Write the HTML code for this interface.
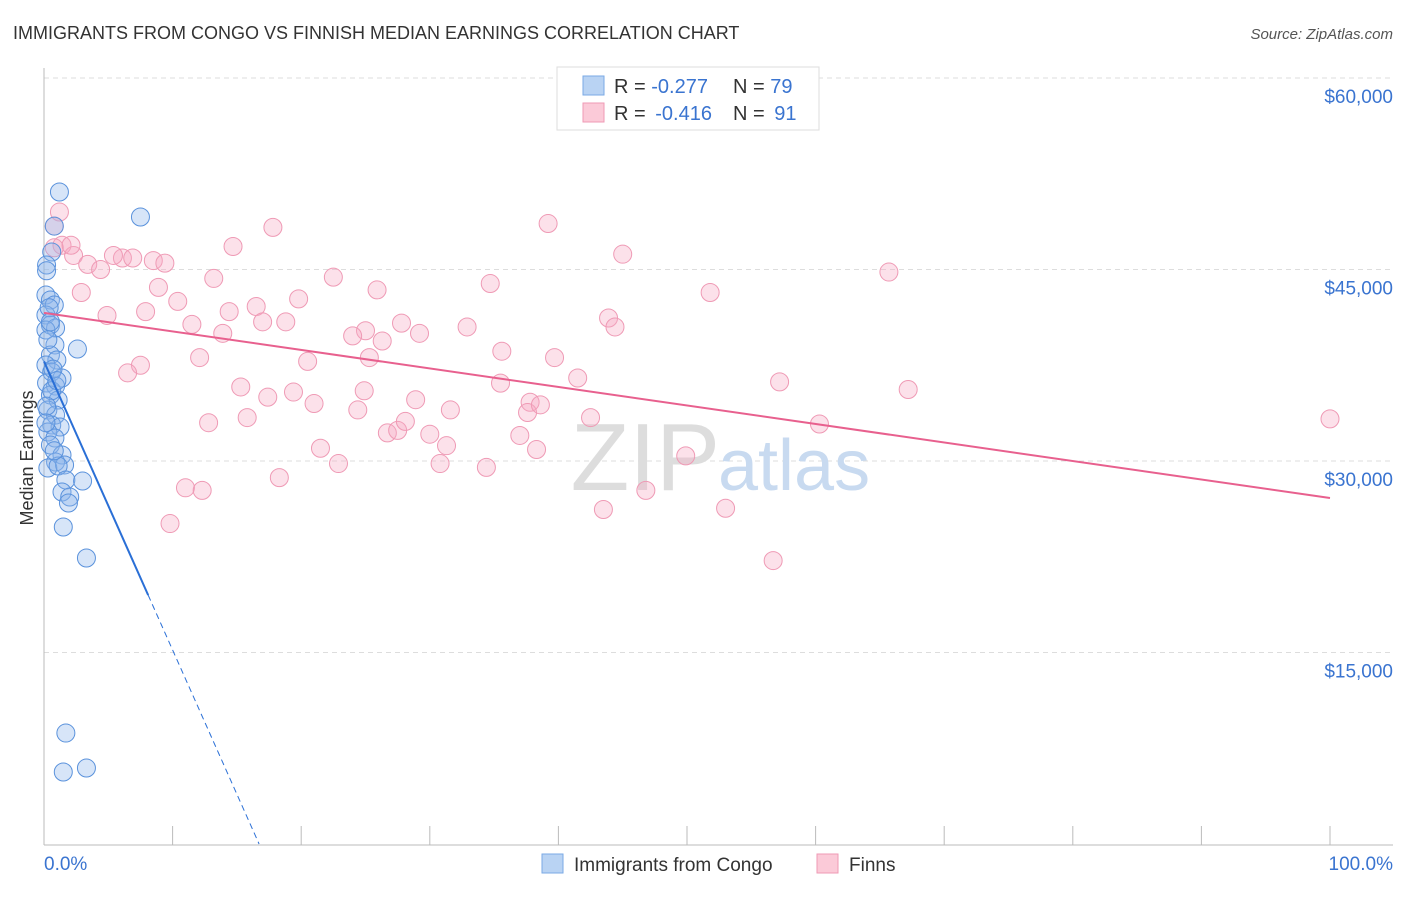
<!DOCTYPE html>
<html><head><meta charset="utf-8"><style>
body{margin:0;background:#fff;font-family:"Liberation Sans",sans-serif;}
svg text{font-family:"Liberation Sans",sans-serif;}
</style></head><body>
<svg id="chart" width="1406" height="892">
<text x="13" y="39" font-size="18" fill="#333">IMMIGRANTS FROM CONGO VS FINNISH MEDIAN EARNINGS CORRELATION CHART</text>
<text x="1393" y="39" font-size="15" fill="#555" font-style="italic" text-anchor="end">Source: ZipAtlas.com</text>
<text x="33" y="458" font-size="18" fill="#333" text-anchor="middle" transform="rotate(-90 33 458)">Median Earnings</text>
<g id="grid"></g>
<text x="720" y="490" font-size="96" fill="#ddd" text-anchor="end" font-family="Liberation Serif">ZIP</text>
<text x="718" y="490" font-size="72" fill="#c8daf0">atlas</text>
<g id="marks"></g>
<g>
<rect x="557" y="67" width="262" height="63" fill="#fff" stroke="#ddd"/>
<rect x="583" y="76" width="21" height="19" fill="#b9d3f3" stroke="#7aa9e6"/>
<rect x="583" y="103" width="21" height="19" fill="#fbcad8" stroke="#ef9ab5"/>
<text x="614" y="93" font-size="20" fill="#333">R = <tspan fill="#3a74d0">-0.277</tspan></text>
<text x="733" y="93" font-size="20" fill="#333">N = <tspan fill="#3a74d0">79</tspan></text>
<text x="614" y="120" font-size="20" fill="#333">R = <tspan fill="#3a74d0" dx="4">-0.416</tspan></text>
<text x="733" y="120" font-size="20" fill="#333">N = <tspan fill="#3a74d0" dx="4">91</tspan></text>
</g>
<g>
<rect x="542" y="854" width="21" height="19" fill="#b9d3f3" stroke="#7aa9e6"/>
<text x="574" y="871" font-size="19" fill="#333">Immigrants from Congo</text>
<rect x="817" y="854" width="21" height="19" fill="#fbcad8" stroke="#ef9ab5"/>
<text x="849" y="871" font-size="19" fill="#333">Finns</text>
</g>
</svg>
<script>
const yTicks=[15000,30000,45000,60000];
const yTickLabels=["$15,000","$30,000","$45,000","$60,000"];
const xTicks=[0,10,20,30,40,50,60,70,80,90,100];
const congoX=[1.2,7.5,0.8,0.6,0.2,0.15,0.5,0.8,0.15,0.5,0.9,0.15,2.6,0.85,0.5,1.0,0.15,0.6,1.4,0.2,0.9,0.5,1.1,0.3,0.9,0.6,1.25,0.3,0.85,0.5,1.4,0.9,0.3,1.6,1.1,1.7,3.0,1.4,2.0,1.9,1.5,3.3,1.7,1.5,3.3,0.2,0.3,0.6,0.15,0.8,0.4,0.7,0.2,0.5,1.0];
const congoY=[51070,49110,48400,46370,45350,43000,42610,42220,41440,40650,40420,40260,38770,39090,38300,37910,37520,36970,36500,36110,35870,35170,34780,33990,33600,32820,32660,32270,31800,31250,30470,29920,29450,29690,29610,28510,28430,27570,27180,26710,24830,22400,8690,5640,5950,44900,39500,35500,33000,30800,42000,37200,34300,40900,36300];
const finnX=[1.2,0.8,1.4,2.3,0.8,3.4,4.4,6.1,6.9,8.5,9.4,5.4,2.9,4.9,7.9,8.9,10.4,11.5,13.2,14.7,17.8,14.4,16.5,17.0,18.8,19.8,13.9,12.1,7.5,6.5,15.3,17.4,19.4,21.0,15.8,12.8,21.5,22.9,18.3,11.0,12.3,9.8,20.5,22.5,25.0,25.9,24.0,25.3,26.3,27.8,29.2,24.9,24.4,28.9,26.7,27.5,28.1,30.0,31.3,31.6,30.8,34.4,32.9,34.7,35.6,35.5,37.8,37.6,38.6,39.2,37.0,38.3,39.7,41.5,42.5,45.0,43.9,44.4,43.5,46.8,49.9,51.8,53.0,57.2,56.7,60.3,65.7,67.2,100,2.1];
const finnY=[49.5,48.4,46.9,46.1,46.7,45.4,45.0,45.9,45.9,45.7,45.5,46.1,43.2,41.4,41.7,43.6,42.5,40.7,44.3,46.8,48.3,41.7,42.1,40.9,40.9,42.7,40.0,38.1,37.5,36.9,35.8,35.0,35.4,34.5,33.4,33.0,31.0,29.8,28.7,27.9,27.7,25.1,37.8,44.4,40.2,43.4,39.8,38.1,39.4,40.8,40.0,35.5,34.0,34.8,32.2,32.4,33.1,32.1,31.2,34.0,29.8,29.5,40.5,43.9,38.6,36.1,34.6,33.8,34.4,48.6,32.0,30.9,38.1,36.5,33.4,46.2,41.2,40.5,26.2,27.7,30.4,43.2,26.3,36.2,22.2,32.9,44.8,35.6,33.3,46.9];
const congoTrend=[37800,-2260,8.1];
const finnTrend=[41600,27100];

const NS="http://www.w3.org/2000/svg";
const X=p=>44+p*12.86;
const Y=v=>844-v/15000*191.5;
function mk(tag,attrs,parent){const e=document.createElementNS(NS,tag);for(const k in attrs)e.setAttribute(k,attrs[k]);parent.appendChild(e);return e;}
const grid=document.getElementById('grid'),marks=document.getElementById('marks');
yTicks.forEach((t,i)=>{
 const l=mk('line',{x1:44,x2:1393,y1:Y(t),y2:Y(t),stroke:'#ddd','stroke-dasharray':'5,4'},grid);
 
 
 const tx=mk('text',{x:1393,y:Y(t)+25,'font-size':19,fill:'#3a74d0','text-anchor':'end'},grid);
 tx.textContent=yTickLabels[i];
 
 
});
mk('line',{x1:44,x2:44,y1:68,y2:845,stroke:'#bbb'},grid);
mk('line',{x1:44,x2:1393,y1:845,y2:845,stroke:'#bbb'},grid);
xTicks.forEach(t=>{const l=mk('line',{x1:X(t),x2:X(t),y1:826,y2:845,stroke:'#bbb'},grid);
 
 });
let t0=mk('text',{x:44,y:870,'font-size':19,fill:'#3a74d0'},grid);t0.textContent='0.0%';


let t1=mk('text',{x:1393,y:870,'font-size':19,fill:'#3a74d0','text-anchor':'end'},grid);t1.textContent='100.0%';


finnX.forEach((x,i)=>{const c=mk('circle',{cx:X(x),cy:Y(finnY[i]*1000),r:9,fill:'rgba(247,168,194,0.35)',stroke:'#ef9ab5','stroke-width':1},marks);
 
 });
congoX.forEach((x,i)=>{const c=mk('circle',{cx:X(x),cy:Y(congoY[i]),r:9,fill:'rgba(140,180,235,0.35)',stroke:'#5a92dc','stroke-width':1},marks);
 
 });
const fl=mk('line',{x1:X(0),y1:Y(finnTrend[0]),x2:X(100),y2:Y(finnTrend[1]),stroke:'#e8608e','stroke-width':2},marks);


const cf=p=>congoTrend[0]+congoTrend[1]*p;
const zero=-congoTrend[0]/congoTrend[1];
const cl=mk('line',{x1:X(0),y1:Y(cf(0)),x2:X(congoTrend[2]),y2:Y(cf(congoTrend[2])),stroke:'#2a6fd6','stroke-width':2},marks);


const cd=mk('line',{x1:X(congoTrend[2]),y1:Y(cf(congoTrend[2])),x2:X(zero),y2:Y(0),stroke:'#2a6fd6','stroke-width':1,'stroke-dasharray':'6,4'},marks);


</script>
</body></html>
